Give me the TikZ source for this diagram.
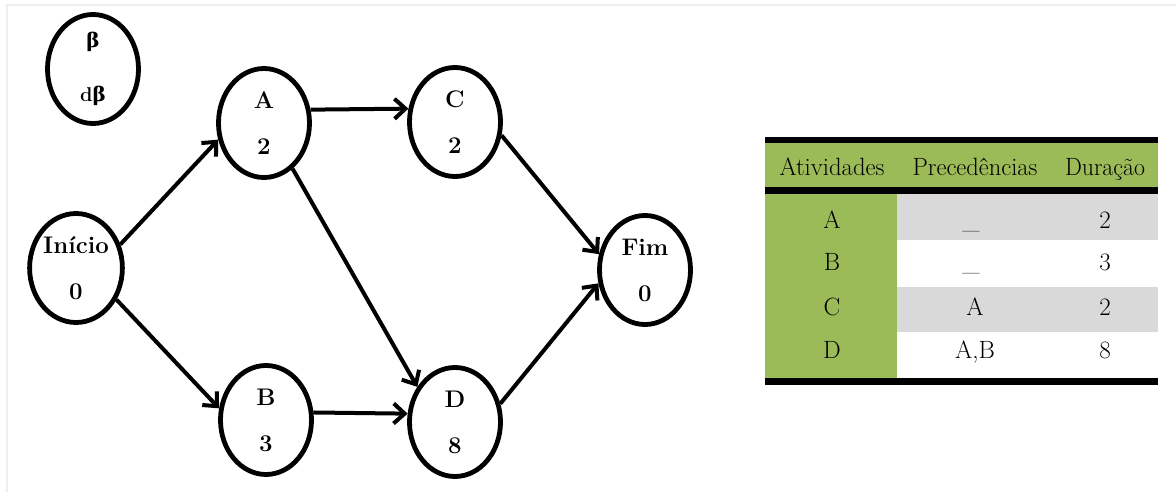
\documentclass[tikz,border=0pt]{standalone}
\usepackage{fontspec}
\usepackage{graphicx}
\usetikzlibrary{arrows.meta,shapes.geometric}
\newfontfamily\grkfont{DejaVu Serif}
\definecolor{hdrgreen}{HTML}{9BBB59}
\definecolor{rowgray}{HTML}{D9D9D9}
\definecolor{framegray}{HTML}{EEEEEE}
\tikzset{
  event/.style={draw, ellipse, line width=4.8pt, minimum width=91pt,
    minimum height=109pt, inner sep=0pt, align=center,
    font=\fontsize{24}{46}\selectfont\bfseries},
  link/.style={line width=4pt, -{Straight Barb[length=11pt,width=20pt,line width=4pt]}},
  cell/.style={anchor=base, inner sep=0pt, font=\fontsize{25}{29}\selectfont}
}
\newcommand{\hdrtext}[2]{\resizebox{#1}{\height}{#2}}
\begin{document}
\begin{tikzpicture}[x=1pt,y=-1pt]
\useasboundingbox (0,0) rectangle (1176,492);
% faint frame on the top and left edges
\draw[framegray, line width=2pt] (7,492) -- (7,5) -- (1176,5);

% legend node and network events
\node[event, font=\fontsize{20}{54}\selectfont\bfseries] (leg) at (93,69)
  {{\grkfont\bfseries β}\\d{\grkfont\bfseries β}};
\node[event] (ini) at (76,268) {Início\\0};
\node[event] (A) at (264,123) {A\\2};
\node[event] (B) at (266,420) {B\\3};
\node[event] (C) at (455,122) {C\\2};
\node[event] (D) at (455,422) {D\\8};
\node[event] (fim) at (645,270) {Fim\\0};

% activity arcs
\draw[link] (ini.28) -- (A.200);
\draw[link] (ini.322) -- (B.166);
\draw[link] (A.16) -- (C.164);
\draw[link] (B.9) -- (D.170);
\draw[link] (A.302) -- (D.137);
\draw[link] (C.344) -- (fim.161);
\draw[link] (D.22) -- (fim.196);

% precedence table
\fill[hdrgreen] (765,143) rectangle (1158,187);
\fill[hdrgreen] (765,194) rectangle (897,378);
\fill[rowgray] (897,194) rectangle (1158,240);
\fill[rowgray] (897,287) rectangle (1158,332);
\fill[black] (765,137) rectangle (1158,143);
\fill[black] (765,187) rectangle (1158,194);
\fill[black] (765,378) rectangle (1158,385);

\node[cell] (h1) at (832,176) {\hdrtext{105pt}{Atividades}};
\node[cell] (h2) at (975,176) {\hdrtext{125pt}{Precedências}};
\node[cell] (h3) at (1105,176) {\hdrtext{80pt}{Duração}};

\node[cell] (a1) at (832,228) {A};
\node[cell] (a2) at (971,229) {\_};
\node[cell] (a3) at (1105,228) {2};
\node[cell] (b1) at (832,270) {B};
\node[cell] (b2) at (971,270) {\_};
\node[cell] (b3) at (1105,270) {3};
\node[cell] (c1) at (832,315) {C};
\node[cell] (c2) at (975,315) {A};
\node[cell] (c3) at (1105,315) {2};
\node[cell] (d1) at (832,358) {D};
\node[cell] (d2) at (975,358) {A,B};
\node[cell] (d3) at (1105,358) {8};
\end{tikzpicture}
\end{document}
